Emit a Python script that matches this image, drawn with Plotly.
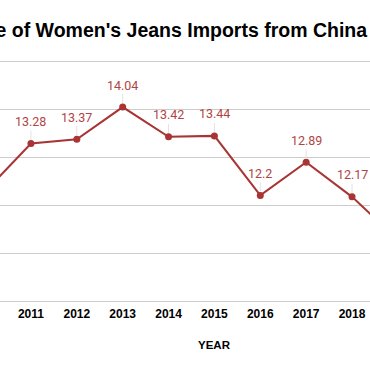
import plotly.graph_objects as go

years = [2010, 2011, 2012, 2013, 2014, 2015, 2016, 2017, 2018, 2019]
prices = [12.28, 13.28, 13.37, 14.04, 13.42, 13.44, 12.2, 12.89, 12.17, 11.28]
tick_labels = [str(y) for y in years]
title_text = "Average Price of Women's Jeans Imports from China"
x_title = "YEAR"

line_color = "#a83434"
label_color = "#b04444"

fig = go.Figure()
fig.add_trace(go.Scatter(
    x=years, y=prices, mode="lines+markers",
    line=dict(color=line_color, width=2),
    marker=dict(color=line_color, size=7),
    hoverinfo="skip", showlegend=False,
))

for xv, yv in zip(years, prices):
    fig.add_annotation(
        x=xv, y=yv, text=str(yv), showarrow=True, arrowhead=0,
        arrowwidth=1, arrowcolor="#e2e2e2", ax=0, ay=-22, standoff=4,
        font=dict(family="Roboto", size=12.5, color=label_color),
    )

fig.add_annotation(
    xref="paper", yref="paper", x=369/370, y=1.042, xanchor="right", yanchor="middle",
    text="<b>" + title_text + "</b>", showarrow=False,
    font=dict(family="Arial", size=19.5, color="#000000"),
)

fig.add_annotation(
    xref="paper", yref="paper", x=215/370, y=(301 - 345) / 260, xanchor="center", yanchor="middle",
    text="<b>" + x_title + "</b>", showarrow=False,
    font=dict(family="Arial", size=11.5, color="#000000"),
)

fig.update_layout(
    width=370, height=371,
    margin=dict(l=0, r=0, t=41, b=70),
    paper_bgcolor="white", plot_bgcolor="white",
    xaxis=dict(
        range=[2010.325, 2018.392], tickmode="array", tickvals=years, ticktext=tick_labels,
        showgrid=False, showline=True, linecolor="#cccccc", linewidth=1,
        zeroline=False, ticks="", ticklabelstandoff=2,
        tickfont=dict(family="Arial", size=12, color="#000000", weight="bold"),
    ),
    yaxis=dict(
        range=[10, 10 + 260/48], dtick=1, tick0=10, showgrid=True, gridcolor="#cccccc",
        gridwidth=1, zeroline=False, showticklabels=False, showline=False,
    ),
)

fig.write_html("out.html", config={"displayModeBar": False},
               post_script="document.body.style.margin='0';document.body.style.overflow='hidden';")
